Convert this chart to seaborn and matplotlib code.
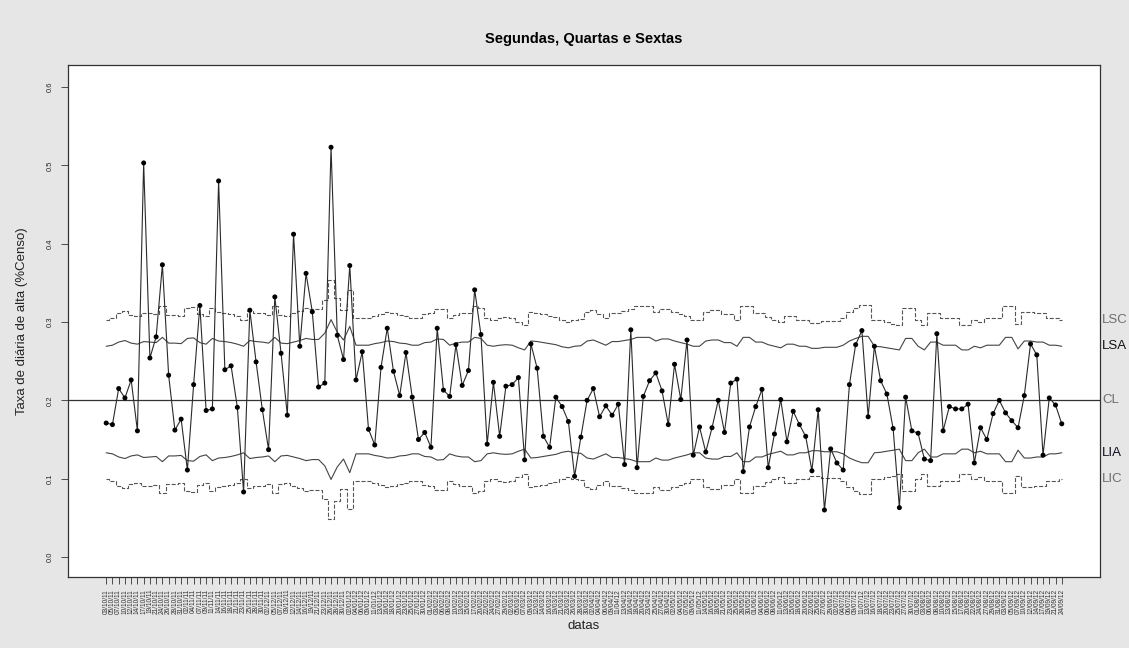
import numpy as np
import pandas as pd
import matplotlib
matplotlib.use("Agg")
import matplotlib.pyplot as plt
import seaborn as sns

# taxa diaria de alta (segundas, quartas e sextas)
taxa = [0.171, 0.169, 0.215, 0.203, 0.226, 0.161, 0.503, 0.254, 0.281, 0.373,
        0.232, 0.162, 0.176, 0.111, 0.220, 0.321, 0.187, 0.189, 0.480, 0.239,
        0.244, 0.191, 0.083, 0.315, 0.249, 0.188, 0.137, 0.332, 0.260, 0.181,
        0.412, 0.269, 0.362, 0.313, 0.217, 0.222, 0.523, 0.283, 0.252, 0.372,
        0.226, 0.262, 0.163, 0.143, 0.242, 0.292, 0.237, 0.206, 0.261, 0.204,
        0.150, 0.159, 0.140, 0.292, 0.213, 0.205, 0.271, 0.219, 0.238, 0.341,
        0.284, 0.144, 0.223, 0.154, 0.218, 0.220, 0.229, 0.124, 0.272, 0.241,
        0.154, 0.140, 0.204, 0.192, 0.173, 0.103, 0.153, 0.200, 0.215, 0.179,
        0.193, 0.181, 0.195, 0.118, 0.290, 0.114, 0.205, 0.225, 0.235, 0.212,
        0.169, 0.246, 0.201, 0.277, 0.130, 0.166, 0.134, 0.165, 0.200, 0.159,
        0.222, 0.227, 0.109, 0.166, 0.192, 0.214, 0.114, 0.157, 0.201, 0.147,
        0.186, 0.169, 0.154, 0.110, 0.188, 0.060, 0.138, 0.120, 0.111, 0.220,
        0.271, 0.289, 0.179, 0.269, 0.225, 0.208, 0.164, 0.063, 0.204, 0.161,
        0.158, 0.125, 0.123, 0.285, 0.161, 0.192, 0.189, 0.189, 0.195, 0.120,
        0.165, 0.150, 0.183, 0.200, 0.184, 0.174, 0.165, 0.206, 0.272, 0.258,
        0.130, 0.203, 0.194, 0.170]

# limite superior de controle (3 sigma), lido ponto a ponto
lsc = [0.303, 0.305, 0.311, 0.314, 0.309, 0.307, 0.312, 0.311, 0.310, 0.320,
       0.309, 0.309, 0.308, 0.318, 0.319, 0.310, 0.307, 0.318, 0.313, 0.312,
       0.310, 0.307, 0.303, 0.314, 0.312, 0.311, 0.309, 0.320, 0.309, 0.308,
       0.311, 0.314, 0.318, 0.316, 0.316, 0.328, 0.354, 0.330, 0.315, 0.341,
       0.305, 0.305, 0.305, 0.308, 0.310, 0.313, 0.312, 0.309, 0.308, 0.305,
       0.305, 0.310, 0.311, 0.317, 0.316, 0.305, 0.309, 0.311, 0.311, 0.320,
       0.318, 0.305, 0.303, 0.305, 0.306, 0.305, 0.300, 0.296, 0.313, 0.312,
       0.310, 0.308, 0.306, 0.302, 0.300, 0.303, 0.304, 0.313, 0.315, 0.310,
       0.305, 0.312, 0.312, 0.314, 0.316, 0.320, 0.320, 0.320, 0.313, 0.317,
       0.317, 0.313, 0.310, 0.307, 0.303, 0.303, 0.313, 0.315, 0.315, 0.310,
       0.310, 0.303, 0.320, 0.320, 0.311, 0.311, 0.306, 0.303, 0.300, 0.307,
       0.307, 0.303, 0.303, 0.299, 0.299, 0.301, 0.301, 0.301, 0.305, 0.313,
       0.318, 0.322, 0.322, 0.303, 0.302, 0.300, 0.298, 0.296, 0.318, 0.318,
       0.303, 0.296, 0.311, 0.311, 0.305, 0.305, 0.305, 0.296, 0.296, 0.303,
       0.300, 0.305, 0.305, 0.305, 0.320, 0.320, 0.298, 0.313, 0.313, 0.311,
       0.311, 0.305, 0.305, 0.303]

cl = 0.201

# datas (segundas, quartas e sextas a partir de 03/10/2011)
dias = pd.date_range("2011-10-03", "2012-12-31", freq="D")
dias = dias[dias.weekday.isin([0, 2, 4])][:len(taxa)]
datas = [d.strftime("%d/%m/%y") for d in dias]

idx = np.arange(len(taxa))
sigma = (np.array(lsc) - cl) / 3
lsa = cl + 2 * sigma
lia = cl - 2 * sigma
lic = cl - 3 * sigma

sns.set_style("white")
plt.rcParams["font.family"] = ["Liberation Sans", "DejaVu Sans"]
fig = plt.figure(figsize=(11.29, 6.48), dpi=100, facecolor="#e6e6e6")
ax = fig.add_axes([0.0602, 0.1096, 0.9141, 0.7901])
ax.set_facecolor("white")

sns.lineplot(x=idx, y=lsc, ax=ax, color="#555555", lw=0.8, linestyle="--",
             drawstyle="steps-mid", estimator=None)
sns.lineplot(x=idx, y=lic, ax=ax, color="#555555", lw=0.8, linestyle="--",
             drawstyle="steps-mid", estimator=None)
sns.lineplot(x=idx, y=lsa, ax=ax, color="#444444", lw=0.8, estimator=None)
sns.lineplot(x=idx, y=lia, ax=ax, color="#444444", lw=0.8, estimator=None)
ax.axhline(cl, color="#333333", lw=0.9)

sns.lineplot(x=idx, y=taxa, ax=ax, color="#2a2a2a", lw=0.8, estimator=None)
sns.scatterplot(x=idx, y=taxa, ax=ax, color="black", s=13, edgecolor="none", zorder=5)

ax.set_xlim(-6.12, len(taxa) - 1 + 6.12)
ax.set_ylim(-0.0255, 0.628)
ax.set_yticks([0.0, 0.1, 0.2, 0.3, 0.4, 0.5, 0.6])
ax.set_yticklabels(["0.0", "0.1", "0.2", "0.3", "0.4", "0.5", "0.6"],
                   rotation=90, va="center", fontsize=5.5)
ax.set_xticks(idx)
ax.set_xticklabels(datas, rotation=90, fontsize=4.7, color="#333333")
ax.tick_params(axis="both", direction="out", length=5, width=0.6, color="#333333",
               bottom=True, left=True)
ax.tick_params(axis="y", pad=5)
for s in ax.spines.values():
    s.set_visible(True)
    s.set_color("#333333")
    s.set_linewidth(0.9)

ax.set_title("Segundas, Quartas e Sextas", fontsize=10.5, weight="bold",
             pad=16, color="black")
ax.set_xlabel("datas", fontsize=9.5, labelpad=4, color="#222222")
ax.set_ylabel("Taxa de diária de alta (%Censo)", fontsize=9.5, labelpad=14,
              color="#222222")

# rotulos das linhas de controle
rot = [("LSC", lsc[-1], "#6e6e6e"), ("LSA", lsa[-1], "#111111"),
       ("CL", cl, "#6e6e6e"), ("LIA", lia[-1], "#111122"), ("LIC", lic[-1], "#6e6e6e")]
for txt, yv, cor in rot:
    ax.text(1.002, yv, txt, transform=ax.get_yaxis_transform(), ha="left",
            va="center", fontsize=9.5, color=cor, clip_on=False)

fig.savefig("out.png", dpi=100, facecolor=fig.get_facecolor())
